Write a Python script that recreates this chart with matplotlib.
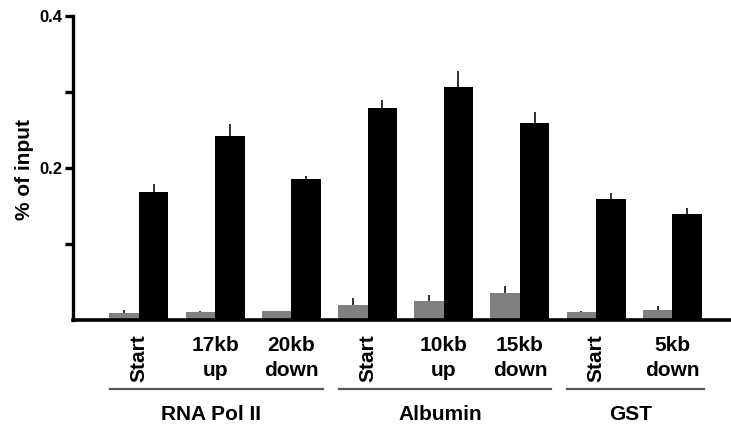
import numpy as np
import matplotlib
matplotlib.use('Agg')
import matplotlib.pyplot as plt

plt.rcParams['font.family'] = ['Liberation Sans', 'DejaVu Sans']
plt.rcParams['font.weight'] = 'bold'

# data
site_labels = ['Start', '17kb\nup', '20kb\ndown', 'Start', '10kb\nup', '15kb\ndown', 'Start', '5kb\ndown']
groups = ['RNA Pol II', 'Albumin', 'GST']
group_members = [[0, 1, 2], [3, 4, 5], [6, 7]]
control = [0.009, 0.010, 0.012, 0.020, 0.025, 0.035, 0.010, 0.013]
control_err = [0.004, 0.002, 0.0005, 0.009, 0.008, 0.010, 0.002, 0.005]
treated = [0.169, 0.242, 0.185, 0.279, 0.306, 0.259, 0.159, 0.139]
treated_err = [0.010, 0.016, 0.005, 0.010, 0.021, 0.015, 0.008, 0.009]

W, H = 731, 430
fig = plt.figure(figsize=(W / 100, H / 100), dpi=100)
ax = fig.add_axes([73 / W, 1 - 320 / H, (W - 73) / W, 304 / H])

x = np.arange(len(treated))
bw = 0.387
zero = np.zeros(len(x))
ax.bar(x - bw / 2, control, bw, color='#808080', zorder=2)
ax.bar(x + bw / 2, treated, bw, color='black', zorder=2)
ax.errorbar(x - bw / 2, control, yerr=[zero, control_err], fmt='none',
            ecolor='#222222', elinewidth=1.3, capsize=0, zorder=3)
ax.errorbar(x + bw / 2, treated, yerr=[zero, treated_err], fmt='none',
            ecolor='#222222', elinewidth=1.3, capsize=0, zorder=3)

ax.set_xlim(-0.866, 7.77)
ax.set_ylim(0, 0.4)
ax.set_yticks([0.1, 0.2, 0.3, 0.4])
ax.set_yticklabels(['', '0.2', '', '0.4'], fontsize=12, fontweight='bold')
ax.tick_params(axis='y', length=6, width=2.4, pad=2)
ax.set_xticks([])
for s in ['top', 'right']:
    ax.spines[s].set_visible(False)
ax.spines['left'].set_linewidth(2.4)
ax.spines['bottom'].set_linewidth(2.6)

# site labels below the axis
tr = ax.get_xaxis_transform()
for i, lab in enumerate(site_labels):
    y = -(358 - 320) / 304
    if lab == 'Start':
        ax.text(x[i], y, lab, rotation=90, ha='center', va='center',
                fontsize=15, fontweight='bold', transform=tr)
    else:
        ax.text(x[i], y, lab, ha='center', va='center', multialignment='center',
                linespacing=1.45, fontsize=15, fontweight='bold', transform=tr)

# group brackets
for name, members in zip(groups, group_members):
    left = members[0] - 0.38
    right = members[-1] + 0.41
    ax.plot([left, right], [-(389 - 320) / 304] * 2, color='#555555', lw=1.6,
            transform=tr, clip_on=False)
    ax.text((members[0] + members[-1]) / 2 - 0.05, -(415 - 320) / 304, name,
            ha='center', va='center', fontsize=15, fontweight='bold', transform=tr)

fig.text(25 / W, 1 - 169 / H, '% of input', rotation=90, ha='center', va='center',
         fontsize=15, fontweight='bold')

fig.savefig('out.png', dpi=100)
